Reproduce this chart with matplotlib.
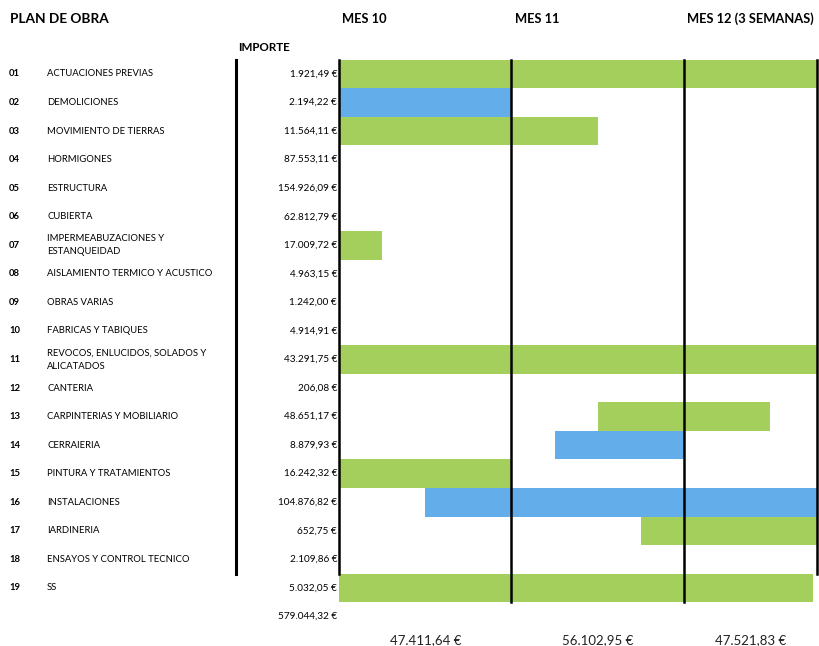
import matplotlib
matplotlib.use("Agg")
import matplotlib.pyplot as plt
from matplotlib.transforms import blended_transform_factory

plt.rcParams['font.family'] = ['Lato', 'DejaVu Sans']

# partidas del plan de obra
codes = ['01', '02', '03', '04', '05', '06', '07', '08', '09', '10',
         '11', '12', '13', '14', '15', '16', '17', '18', '19']
names = ['ACTUACIONES PREVIAS', 'DEMOLICIONES', 'MOVIMIENTO DE TIERRAS',
         'HORMIGONES', 'ESTRUCTURA', 'CUBIERTA',
         'IMPERMEABUZACIONES Y\nESTANQUEIDAD', 'AISLAMIENTO TERMICO Y ACUSTICO',
         'OBRAS VARIAS', 'FABRICAS Y TABIQUES',
         'REVOCOS, ENLUCIDOS, SOLADOS Y\nALICATADOS', 'CANTERIA',
         'CARPINTERIAS Y MOBILIARIO', 'CERRAIERIA', 'PINTURA Y TRATAMIENTOS',
         'INSTALACIONES', 'IARDINERIA', 'ENSAYOS Y CONTROL TECNICO', 'SS']
amounts = [1921.49, 2194.22, 11564.11, 87553.11, 154926.09, 62812.79,
           17009.72, 4963.15, 1242.00, 4914.91, 43291.75, 206.08,
           48651.17, 8879.93, 16242.32, 104876.82, 652.75, 2109.86, 5032.05]
total = 579044.32

months = ['MES 10', 'MES 11', 'MES 12 (3 SEMANAS)']
month_start = [0, 1, 2]
month_end = [1, 2, 2.77]
month_totals = [47411.64, 56102.95, 47521.83]

# barras del diagrama (fila, inicio, fin en meses, tipo)
bar_rows = [0, 1, 2, 6, 10, 12, 13, 14, 15, 16, 18]
bar_start = [0, 0, 0, 0, 0, 1.5, 1.25, 0, 0.5, 1.75, 0]
bar_end = [2.77, 1, 1.5, 0.25, 2.77, 2.5, 2.0, 1, 2.77, 2.77, 2.75]
bar_kind = ['g', 'b', 'g', 'g', 'g', 'g', 'b', 'g', 'b', 'g', 'g']
colors = {'g': '#A5CF5C', 'b': '#63AEEA'}


def euro(v):
    s = '{:,.2f}'.format(v)
    s = s.replace(',', 'X').replace('.', ',').replace('X', '.')
    return s + ' €'


W, H = 819, 646
fig = plt.figure(figsize=(W / 100, H / 100), dpi=100)
top_px, row_h = 59.7, 28.55
n = len(codes)
ax = fig.add_axes([339 / W, 1 - (top_px + n * row_h) / H,
                   (816.7 - 339) / W, n * row_h / H])
ax.set_xlim(0, 2.77)
ax.set_ylim(n - 0.5, -0.5)
ax.axis('off')

for r, s, e, k in zip(bar_rows, bar_start, bar_end, bar_kind):
    ax.barh(r, e - s, left=s, height=1.0, color=colors[k], zorder=1)

# lineas de los meses
ax.plot([0, 0], [-0.5, n - 1.5], color='black', lw=1.8, zorder=3, clip_on=False)
for x in [1, 2]:
    ax.plot([x, x], [-0.5, n - 0.5], color='black', lw=1.8, zorder=3, clip_on=False)
ax.plot([2.77, 2.77], [-0.5, n - 1.5], color='black', lw=1.8, zorder=3, clip_on=False)

tr = blended_transform_factory(fig.transFigure, ax.transData)
ax.plot([236 / W, 236 / W], [-0.5, n - 1.5], color='black', lw=2.2,
        transform=tr, clip_on=False)

fig.text(10 / W, 1 - 19 / H, 'PLAN DE OBRA', fontsize=9.8, fontweight='bold',
         va='center', ha='left')
for m, s in zip(months, month_start):
    ax.text(s + 0.018, -1.93, m, fontsize=9.3, fontweight='bold',
            va='center', ha='left', clip_on=False)
ax.text(238 / W, -0.91, 'IMPORTE', transform=tr, fontsize=8.4,
        fontweight='bold', va='center', ha='left')

for i in range(n):
    ax.text(9 / W, i, codes[i], transform=tr, fontsize=6.8, fontweight='bold',
            va='center', ha='left')
    ax.text(47 / W, i, names[i], transform=tr, fontsize=6.8,
            va='center', ha='left', linespacing=1.6)
    ax.text(337 / W, i, euro(amounts[i]), transform=tr, fontsize=7.2,
            va='center', ha='right')
ax.text(337 / W, 19.0, euro(total), transform=tr, fontsize=7.2,
        va='center', ha='right')

for s, e, t in zip(month_start, month_end, month_totals):
    ax.text((s + e) / 2, 19.82, euro(t), fontsize=9.5, va='center',
            ha='center', clip_on=False, color='#222222')

fig.savefig('out.png', dpi=100)
